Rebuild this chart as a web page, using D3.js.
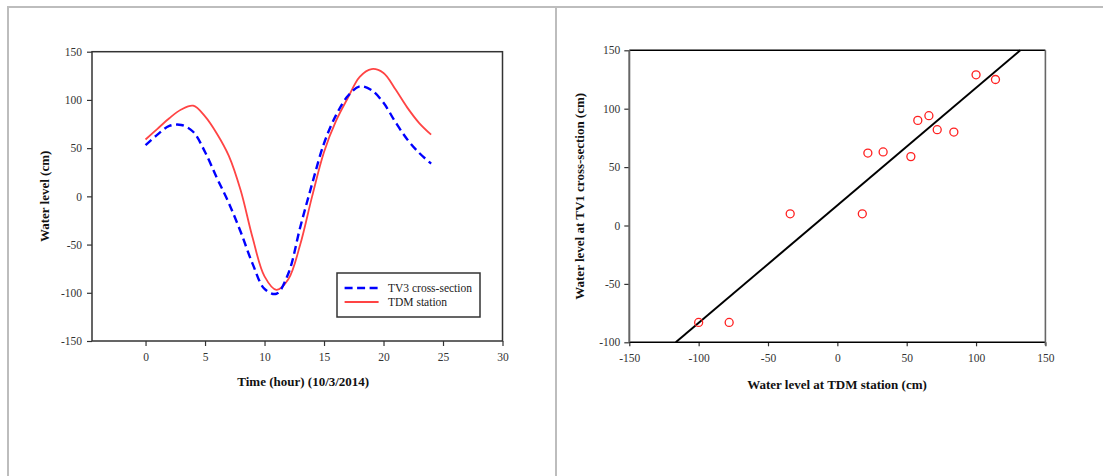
<!DOCTYPE html>
<html>
<head>
<meta charset="utf-8">
<script src="https://cdn.jsdelivr.net/npm/d3@7"></script>
<style>
  html, body { margin: 0; padding: 0; background: #fff; }
  svg { display: block; }
  text { font-family: "Liberation Serif", "Times New Roman", serif; }
</style>
</head>
<body>
<svg id="chart" width="1103" height="476"></svg>
<script>
// ---------------- Data ----------------
const hours = [0,1,2,3,4,5,6,7,8,9,10,11,12,13,14,15,16,17,18,19,20,21,22,23,24];
const tv3Level = [53,64,73,74,67,46,19,-7,-37,-70,-96,-101,-80,-32,13,55,84,104,114,110,97,77,59,45,34];
const tdmLevel = [59,70,81,90,94,83,65,42,6,-43,-83,-97,-86,-50,0,46,78,102,124,132,128,111,92,76,64];
const seriesNames = ["TV3 cross-section", "TDM station"];

const scatterTDM = [-100,-78,-34,18,22,33,53,58,66,72,84,100,114];
const scatterTV1 = [-83,-83,10,10,62,63,59,90,94,82,80,129,125];
const fitLineX = [-116.5, 131.9];
const fitLineY = [-100, 150];

const leftXTicks = [0,5,10,15,20,25,30];
const leftYTicks = [-150,-100,-50,0,50,100,150];
const rightXTicks = [-150,-100,-50,0,50,100,150];
const rightYTicks = [-100,-50,0,50,100,150];

// ---------------- Setup ----------------
const svg = d3.select("#chart");
const frame = "#bdbdbd";
svg.append("line").attr("x1", 7).attr("x2", 1103).attr("y1", 7).attr("y2", 7)
  .attr("stroke", frame).attr("stroke-width", 2);
svg.append("line").attr("x1", 8).attr("x2", 8).attr("y1", 6).attr("y2", 476)
  .attr("stroke", frame).attr("stroke-width", 2);
svg.append("line").attr("x1", 556).attr("x2", 556).attr("y1", 6).attr("y2", 476)
  .attr("stroke", frame).attr("stroke-width", 2);

const fmt = d => String(d);
function styleAxis(g, color) {
  g.attr("font-family", "'Liberation Serif', serif").attr("font-size", 11.5);
  g.select(".domain").remove();
  g.selectAll(".tick line").attr("stroke", color).attr("stroke-width", 1.2);
  g.selectAll(".tick text").attr("fill", "#333");
}

// ---------------- Left chart ----------------
const L = { left: 92, right: 502.5, top: 51.7, bottom: 341 };
const xL = d3.scaleLinear().domain([-4.5, 30]).range([L.left, L.right]);
const yL = d3.scaleLinear().domain([-150, 150]).range([L.bottom, L.top]);

svg.append("g").attr("transform", `translate(0,${L.bottom})`)
  .call(d3.axisBottom(xL).tickValues(leftXTicks).tickFormat(fmt).tickSize(5).tickPadding(7).tickSizeOuter(0))
  .call(g => styleAxis(g, "#333"));
svg.append("g").attr("transform", `translate(${L.left},0)`)
  .call(d3.axisLeft(yL).tickValues(leftYTicks).tickFormat(fmt).tickSize(5).tickPadding(5).tickSizeOuter(0))
  .call(g => styleAxis(g, "#333"));

svg.append("rect").attr("x", L.left).attr("y", L.top)
  .attr("width", L.right - L.left).attr("height", L.bottom - L.top)
  .attr("fill", "none").attr("stroke", "#333").attr("stroke-width", 1.5);

const lineGen = (vals) => d3.line()
  .x((d, i) => xL(hours[i]))
  .y(d => yL(d))
  .curve(d3.curveCatmullRom.alpha(0.5))(vals);

svg.append("path").attr("d", lineGen(tdmLevel))
  .attr("fill", "none").attr("stroke", "#ff4444").attr("stroke-width", 1.8);
svg.append("path").attr("d", lineGen(tv3Level))
  .attr("fill", "none").attr("stroke", "#0000ff").attr("stroke-width", 2.4)
  .attr("stroke-dasharray", "8,4.5");

// Legend
const lg = svg.append("g");
lg.append("rect").attr("x", 337).attr("y", 273).attr("width", 143).attr("height", 44)
  .attr("fill", "#fff").attr("stroke", "#333").attr("stroke-width", 1.5);
const legendItems = [
  { name: seriesNames[0], color: "#0000ff", dash: "8,4.5", w: 2.4, y: 288 },
  { name: seriesNames[1], color: "#ff4444", dash: null, w: 1.8, y: 302 }
];
legendItems.forEach(it => {
  const l = lg.append("line").attr("x1", 344.6).attr("x2", 378.6).attr("y1", it.y).attr("y2", it.y)
    .attr("stroke", it.color).attr("stroke-width", it.w);
  if (it.dash) l.attr("stroke-dasharray", it.dash);
  lg.append("text").attr("x", 388).attr("y", it.y + 4).attr("font-size", 11.5)
    .attr("fill", "#222").text(it.name);
});

svg.append("text").attr("x", (L.left + L.right) / 2 + 6).attr("y", 386)
  .attr("text-anchor", "middle").attr("font-size", 13).attr("font-weight", "bold")
  .attr("fill", "#111").text("Time (hour) (10/3/2014)");
svg.append("text").attr("transform", `translate(49,${(L.top + L.bottom) / 2}) rotate(-90)`)
  .attr("text-anchor", "middle").attr("font-size", 13).attr("font-weight", "bold")
  .attr("fill", "#111").text("Water level (cm)");

// ---------------- Right chart ----------------
const R = { left: 629.3, right: 1045.4, top: 50.3, bottom: 342.3 };
const xR = d3.scaleLinear().domain([-150, 150]).range([R.left, R.right]);
const yR = d3.scaleLinear().domain([-100, 150]).range([R.bottom, R.top]);

svg.append("g").attr("transform", `translate(0,${R.bottom})`)
  .call(d3.axisBottom(xR).tickValues(rightXTicks).tickFormat(fmt).tickSize(4).tickPadding(8).tickSizeOuter(0))
  .call(g => styleAxis(g, "#333"));
svg.append("g").attr("transform", `translate(${R.left},0)`)
  .call(d3.axisLeft(yR).tickValues(rightYTicks).tickFormat(fmt).tickSize(5).tickPadding(4).tickSizeOuter(0))
  .call(g => styleAxis(g, "#333"));

svg.append("line").attr("x1", R.left).attr("x2", R.right).attr("y1", R.top).attr("y2", R.top)
  .attr("stroke", "#000").attr("stroke-width", 1.5);
svg.append("line").attr("x1", R.left).attr("x2", R.right).attr("y1", R.bottom).attr("y2", R.bottom)
  .attr("stroke", "#000").attr("stroke-width", 1.5);
svg.append("line").attr("x1", R.left).attr("x2", R.left).attr("y1", R.top).attr("y2", R.bottom)
  .attr("stroke", "#666").attr("stroke-width", 2);
svg.append("line").attr("x1", R.right).attr("x2", R.right).attr("y1", R.top).attr("y2", R.bottom + 3)
  .attr("stroke", "#666").attr("stroke-width", 1.6);

svg.append("line")
  .attr("x1", xR(fitLineX[0])).attr("y1", yR(fitLineY[0]))
  .attr("x2", xR(fitLineX[1])).attr("y2", yR(fitLineY[1]))
  .attr("stroke", "#000").attr("stroke-width", 2);

svg.append("g").selectAll("circle").data(scatterTDM).join("circle")
  .attr("cx", d => xR(d)).attr("cy", (d, i) => yR(scatterTV1[i])).attr("r", 4)
  .attr("fill", "none").attr("stroke", "#ff2020").attr("stroke-width", 1.3);

svg.append("text").attr("x", 837).attr("y", 389)
  .attr("text-anchor", "middle").attr("font-size", 13).attr("font-weight", "bold")
  .attr("fill", "#111").text("Water level at TDM station (cm)");
svg.append("text").attr("transform", `translate(584,${(R.top + R.bottom) / 2}) rotate(-90)`)
  .attr("text-anchor", "middle").attr("font-size", 13).attr("font-weight", "bold")
  .attr("fill", "#111").text("Water level at TV1 cross-section (cm)");
</script>
</body>
</html>
